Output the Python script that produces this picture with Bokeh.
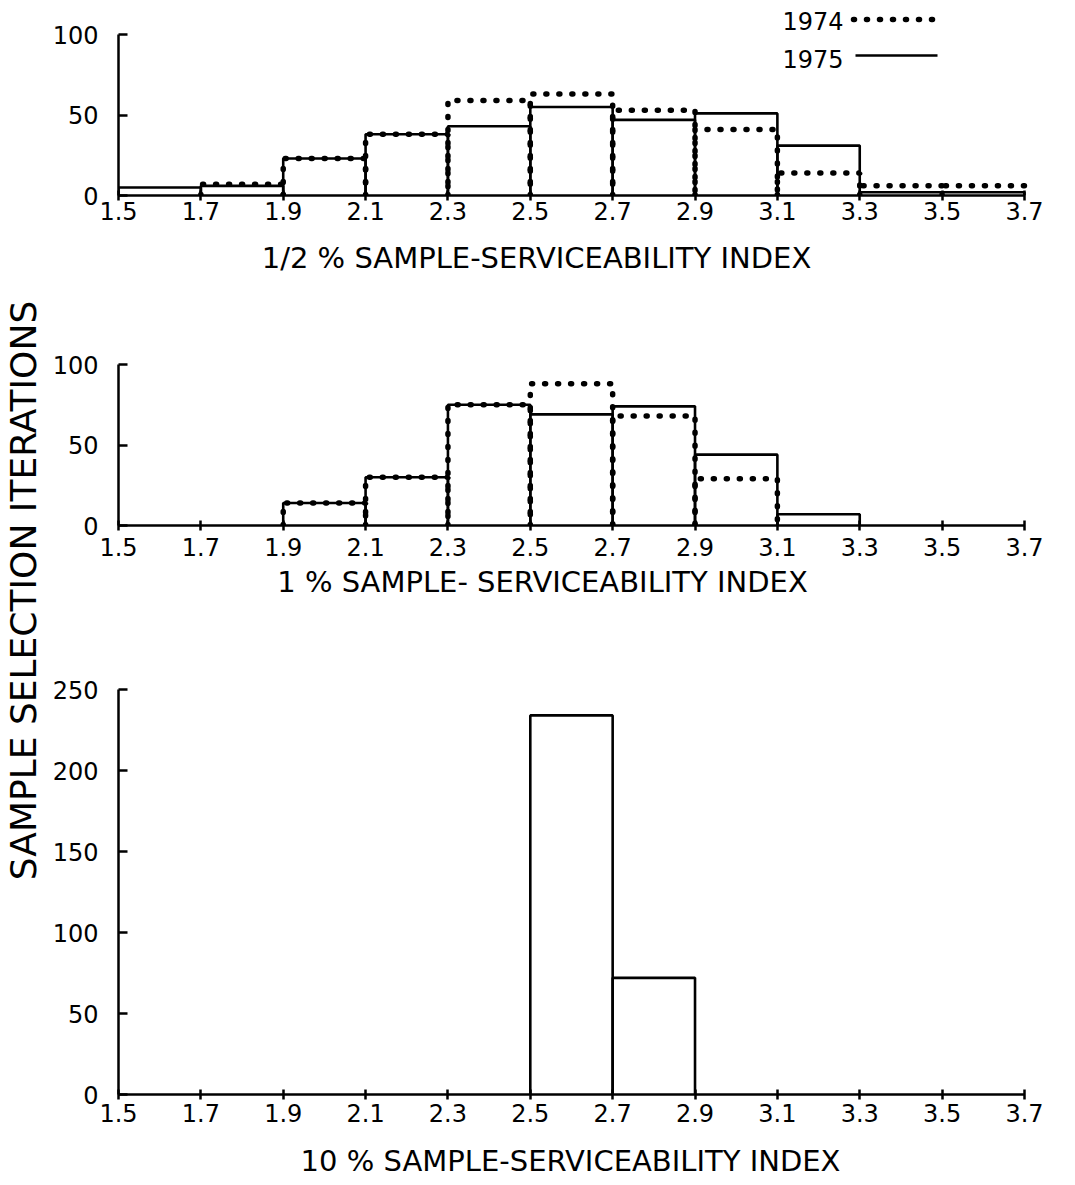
import numpy as np
from bokeh.plotting import figure
from bokeh.layouts import row, column
from bokeh.models import Range1d, FixedTicker, Label
from bokeh.embed import file_html
from bokeh.resources import INLINE

# ---------------- data ----------------
bin_edges = [1.5, 1.7, 1.9, 2.1, 2.3, 2.5, 2.7, 2.9, 3.1, 3.3, 3.5, 3.7]
x_ticks = [1.5, 1.7, 1.9, 2.1, 2.3, 2.5, 2.7, 2.9, 3.1, 3.3, 3.5, 3.7]

half_1974 = [0, 7, 23, 38, 59, 63, 53, 41, 14, 6, 6]
half_1975 = [5, 6, 23, 38, 43, 55, 47, 51, 31, 2, 2]
one_1974 = [0, 0, 14, 30, 75, 88, 68, 29, 0, 0, 0]
one_1975 = [0, 0, 14, 30, 75, 69, 74, 44, 7, 0, 0]
ten_1975 = [0, 0, 0, 0, 0, 234, 72, 0, 0, 0, 0]

y_ticks_small = [0, 50, 100]
y_ticks_big = [0, 50, 100, 150, 200, 250]

titles = ["1/2 % SAMPLE-SERVICEABILITY INDEX",
          "1 % SAMPLE- SERVICEABILITY INDEX",
          "10 % SAMPLE-SERVICEABILITY INDEX"]
y_title = "SAMPLE SELECTION ITERATIONS"
legend_names = ["1974", "1975"]

# ---------------- styling / geometry ----------------
FONT = "DejaVu Sans"
DOT = dict(line_dash="1 12", line_cap="round", line_width=5.5, line_color="black")
SOLID = dict(line_width=2.6, line_color="black")

LAB_W = 46
FIG_W = 1024
MB_L, MB_R = 72, 21
PX_X = 411.8                      # pixels per index unit
FRAME_W = FIG_W - MB_L - MB_R
X_END = 1.5 + FRAME_W / PX_X
X_LEFT_PX = LAB_W + MB_L          # page x of index 1.5


def px2x(px):
    return 1.5 + (px - X_LEFT_PX) / PX_X


def steps(vals):
    xs, ys = [], []
    for i, v in enumerate(vals):
        if v > 0:
            l, r = bin_edges[i], bin_edges[i + 1]
            xs.append([l, l, r, r]); ys.append([0, v, v, 0])
    return xs, ys


def base_fig(height, y_range, mb_top, mb_bottom):
    p = figure(width=FIG_W, height=height, x_range=Range1d(1.5, X_END),
               y_range=y_range, toolbar_location=None, output_backend="svg",
               min_border_left=MB_L, min_border_right=MB_R,
               min_border_top=mb_top, min_border_bottom=mb_bottom)
    p.grid.visible = False
    p.outline_line_color = None
    return p


def panel(height, mb_top, mb_bottom, px_y, y_ticks, y_bound, x_standoff):
    fh = height - mb_top - mb_bottom
    p = base_fig(height, Range1d(0, fh / px_y), mb_top, mb_bottom)
    xa = p.xaxis[0]
    xa.ticker = FixedTicker(ticks=x_ticks)
    xa.bounds = (1.5, 3.7)
    xa.axis_line_width = 2.5
    xa.major_tick_line_width = 2.5
    xa.major_tick_in = 5
    xa.major_tick_out = 5
    xa.minor_tick_line_color = None
    xa.major_label_standoff = x_standoff
    xa.major_label_text_font = FONT
    xa.major_label_text_font_size = "24px"
    xa.major_label_text_color = "black"
    ya = p.yaxis[0]
    ya.ticker = FixedTicker(ticks=y_ticks)
    ya.bounds = (0, y_bound)
    ya.axis_line_width = 2.5
    ya.major_tick_line_width = 2.5
    ya.major_tick_in = 9
    ya.major_tick_out = 0
    ya.minor_tick_line_color = None
    ya.major_label_standoff = 20
    ya.major_label_text_font = FONT
    ya.major_label_text_font_size = "24px"
    ya.major_label_text_color = "black"
    return p


def title_fig(height, text, cx_px, cy_from_top):
    t = base_fig(height, Range1d(0, height), 0, 0)
    t.axis.visible = False
    t.add_layout(Label(x=px2x(cx_px), y=height - cy_from_top, text=text,
                       text_align="center", text_baseline="middle",
                       text_font=FONT, text_font_size="29px", text_color="black"))
    return t


# ---- top panel (1/2 %) : page y 0..233, baseline at 195 ----
PY1 = 1.61
p1 = panel(233, 2, 38, PY1, y_ticks_small, 100, 1)
xs, ys = steps(half_1975)
p1.multi_line(xs, ys, **SOLID)
xs, ys = steps(half_1974)
p1.multi_line(xs, ys, **DOT)


def fy1(py):
    return (195 - py) / PY1


p1.add_layout(Label(x=px2x(782), y=fy1(20), text=legend_names[0], text_align="left",
                    text_baseline="middle", text_font=FONT, text_font_size="24px",
                    text_color="black"))
p1.add_layout(Label(x=px2x(782), y=fy1(58), text=legend_names[1], text_align="left",
                    text_baseline="middle", text_font=FONT, text_font_size="24px",
                    text_color="black"))
p1.line([px2x(853), px2x(937)], [fy1(19), fy1(19)], **DOT)
p1.line([px2x(855), px2x(937)], [fy1(55), fy1(55)], **SOLID)
t1 = title_fig(57, titles[0], 536, 24)

# ---- middle panel (1 %) : page y 290..566, baseline at 525 ----
p2 = panel(276, 4, 41, 1.61, y_ticks_small, 100, 7)
xs, ys = steps(one_1975)
p2.multi_line(xs, ys, **SOLID)
xs, ys = steps(one_1974)
p2.multi_line(xs, ys, **DOT)
t2 = title_fig(39, titles[1], 542, 15)

# ---- bottom panel (10 %) : page y 605..1134, baseline at 1094 ----
p3 = panel(529, 5, 40, 1.62, y_ticks_big, 250, 4)
xs, ys = steps(ten_1975)
p3.multi_line(xs, ys, **SOLID)
t3 = title_fig(46, titles[2], 570, 26)

# ---- shared y title ----
H = 233 + 57 + 276 + 39 + 529 + 46
lab = figure(width=LAB_W, height=H, x_range=Range1d(0, LAB_W), y_range=Range1d(0, H),
             toolbar_location=None, output_backend="svg",
             min_border_left=0, min_border_right=0, min_border_top=0,
             min_border_bottom=0, x_axis_location=None, y_axis_location=None)
lab.grid.visible = False
lab.outline_line_color = None
lab.add_layout(Label(x=23, y=H - 590, text=y_title, angle=np.pi / 2,
                     text_align="center", text_baseline="middle", text_font=FONT,
                     text_font_size="36px", text_color="black"))

layout = row(lab, column(p1, t1, p2, t2, p3, t3))
open("out.html", "w").write(file_html(layout, INLINE))
